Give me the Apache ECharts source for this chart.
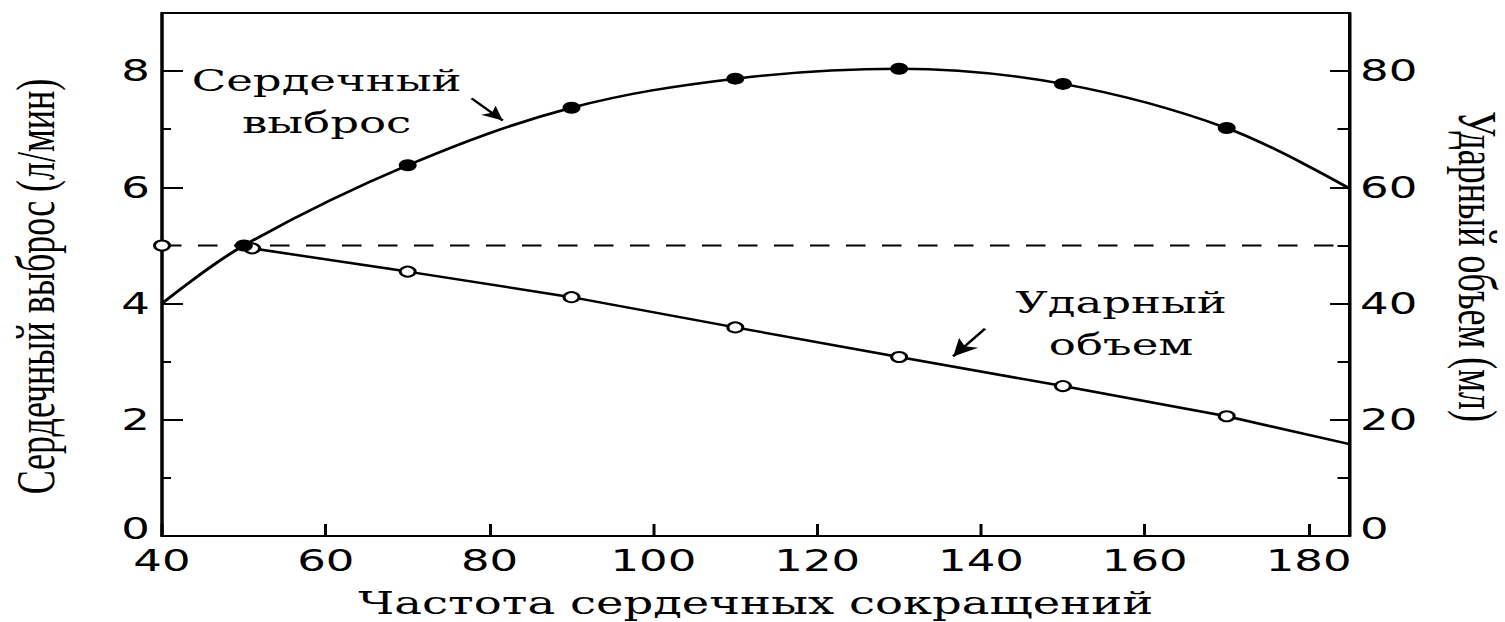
<!DOCTYPE html>
<html>
<head>
<meta charset="utf-8">
<script src="https://cdn.jsdelivr.net/npm/echarts@6/dist/echarts.min.js"></script>
<style>
  html, body { margin: 0; padding: 0; background: #fff; overflow: hidden; }
  /* The figure is laid out narrow and widened horizontally, like the printed plate */
  #chart { width: 1003.33px; height: 622px; transform: scaleX(1.5); transform-origin: 0 0; }
</style>
</head>
<body>
<div id="chart"></div>
<script>
// Heart rate (beats/min)
const heartRate = [40, 50, 70, 90, 110, 130, 150, 170, 185];
// Cardiac output (l/min); the end points carry no marker
const cardiacOutput = [4.0, 5.0, 6.38, 7.37, 7.87, 8.04, 7.78, 7.02, 5.98];
const cardiacMarked = [false, true, true, true, true, true, true, true, false];

// Stroke volume (ml)
const strokeRate = [50, 51, 70, 90, 110, 130, 150, 170, 185];
const strokeVolume = [50, 49.5, 45.5, 41.1, 35.9, 30.8, 25.8, 20.6, 15.8];
const strokeMarked = [false, true, true, true, true, true, true, true, false];

// Resting stroke volume reference level (ml)
const restRate = [40, 185];
const restVolume = [50, 50];

// Axis ranges
const xRange = [40, 185, 20];
const leftRange = [0, 9, 2];
const rightRange = [0, 90, 20];

// Texts
const xTitle = 'Частота сердечных сокращений';
const leftTitle = 'Сердечный выброс (л/мин)';
const rightTitle = 'Ударный объем (мл)';
const coLabel = 'Сердечный\nвыброс';
const svLabel = 'Ударный\nобъем';

// Label anchors and pointer arrows, in data units
const coLabelAt = [60.1, 7.47];
const coArrow = [[77.8, 7.53], [81.6, 7.15]];
const svLabelAt = [157.1, 36.6];
const svArrow = [[140.5, 35.7], [136.6, 30.9]];

const BLACK = '#000';
const tickFont = { fontFamily: 'DejaVu Sans', fontSize: 30, color: BLACK };
const serif = 'DejaVu Serif';

// Zero sits a little above its tick on both vertical axes
const zeroLabel = {
  formatter: v => (v === 0 ? '{z|0}' : String(v)),
  rich: { z: Object.assign({ padding: [0, 0, 14, 0] }, tickFont) }
};

function pts(xs, ys, marked) {
  return xs.map((x, i) => marked && !marked[i]
    ? { value: [x, ys[i]], symbol: 'none' }
    : { value: [x, ys[i]] });
}

const chart = echarts.init(document.getElementById('chart'), null, { renderer: 'svg' });

const option = {
  animation: false,
  backgroundColor: '#fff',
  grid: {
    left: 108, right: 103.3, top: 13, bottom: 86,
    containLabel: false, outerBoundsMode: 'none',
    show: true, borderColor: BLACK, borderWidth: 2, backgroundColor: 'transparent'
  },
  xAxis: {
    type: 'value', min: xRange[0], max: xRange[1], interval: xRange[2],
    axisLine: { show: true, lineStyle: { color: BLACK, width: 2 } },
    axisTick: { show: true, inside: true, length: 12, lineStyle: { color: BLACK, width: 2 } },
    axisLabel: Object.assign({ margin: 10, showMaxLabel: false }, tickFont),
    splitLine: { show: false },
    name: xTitle, nameLocation: 'middle', nameGap: 52,
    nameTextStyle: { fontFamily: serif, fontSize: 31, color: BLACK }
  },
  yAxis: [
    {
      type: 'value', position: 'left', min: leftRange[0], max: leftRange[1], interval: leftRange[2],
      axisLine: { show: true, lineStyle: { color: BLACK, width: 2 } },
      axisTick: { show: true, inside: true, length: 14, lineStyle: { color: BLACK, width: 2 } },
      axisLabel: Object.assign({ margin: 8, showMaxLabel: false }, tickFont, zeroLabel),
      splitLine: { show: false },
      name: leftTitle, nameLocation: 'middle', nameRotate: 90, nameGap: 66,
      nameTextStyle: { fontFamily: 'Liberation Serif', fontSize: 36, color: BLACK, padding: [0, 24, 0, 0] }
    },
    {
      type: 'value', position: 'left', min: leftRange[0], max: leftRange[1], interval: 1,
      axisLine: { show: false },
      axisTick: { show: true, inside: true, length: 6, lineStyle: { color: BLACK, width: 2 } },
      axisLabel: { show: false }, splitLine: { show: false }
    },
    {
      type: 'value', position: 'right', min: rightRange[0], max: rightRange[1], interval: rightRange[2],
      axisLine: { show: true, lineStyle: { color: BLACK, width: 2 } },
      axisTick: { show: true, inside: true, length: 13, lineStyle: { color: BLACK, width: 2 } },
      axisLabel: Object.assign({ margin: 7, showMaxLabel: false }, tickFont, zeroLabel),
      splitLine: { show: false },
      name: rightTitle, nameLocation: 'middle', nameRotate: -90, nameGap: 70,
      nameTextStyle: { fontFamily: 'Liberation Serif', fontSize: 36, lineHeight: 30, color: BLACK, padding: [0, 16, 0, 0] }
    },
    {
      type: 'value', position: 'right', min: rightRange[0], max: rightRange[1], interval: 10,
      axisLine: { show: false },
      axisTick: { show: true, inside: true, length: 8, lineStyle: { color: BLACK, width: 2 } },
      axisLabel: { show: false }, splitLine: { show: false }
    }
  ],
  series: [
    {
      name: 'rest',
      type: 'line', yAxisIndex: 2, z: 2,
      data: pts(restRate, restVolume, [true, false]),
      symbol: 'circle', symbolSize: 10,
      itemStyle: { color: '#fff', borderColor: BLACK, borderWidth: 2 },
      lineStyle: { color: BLACK, width: 2, type: [13, 11] }
    },
    {
      name: 'stroke',
      type: 'line', yAxisIndex: 2, z: 3,
      data: pts(strokeRate, strokeVolume, strokeMarked),
      symbol: 'circle', symbolSize: 10,
      itemStyle: { color: '#fff', borderColor: BLACK, borderWidth: 2 },
      lineStyle: { color: BLACK, width: 2.5 },
      markPoint: {
        silent: true, symbol: 'rect', symbolSize: 1,
        itemStyle: { color: 'transparent' },
        label: { show: true, position: 'inside', formatter: svLabel,
          fontFamily: serif, fontSize: 30, lineHeight: 42, color: BLACK },
        data: [{ coord: svLabelAt }]
      },
      markLine: {
        silent: true, symbol: ['none', 'arrow'], symbolSize: [12, 17],
        label: { show: false },
        lineStyle: { color: BLACK, width: 2, type: 'solid' },
        data: [[{ coord: svArrow[0] }, { coord: svArrow[1] }]]
      }
    },
    {
      name: 'cardiac',
      type: 'line', yAxisIndex: 0, z: 4,
      smooth: 0.35,
      data: pts(heartRate, cardiacOutput, cardiacMarked),
      symbol: 'circle', symbolSize: 12,
      itemStyle: { color: BLACK },
      lineStyle: { color: BLACK, width: 2.5 },
      markPoint: {
        silent: true, symbol: 'rect', symbolSize: 1,
        itemStyle: { color: 'transparent' },
        label: { show: true, position: 'inside', formatter: coLabel,
          fontFamily: serif, fontSize: 30, lineHeight: 42, color: BLACK },
        data: [{ coord: coLabelAt }]
      },
      markLine: {
        silent: true, symbol: ['none', 'arrow'], symbolSize: [10, 14],
        label: { show: false },
        lineStyle: { color: BLACK, width: 2, type: 'solid' },
        data: [[{ coord: coArrow[0] }, { coord: coArrow[1] }]]
      }
    }
  ]
};

chart.setOption(option);
</script>
</body>
</html>
